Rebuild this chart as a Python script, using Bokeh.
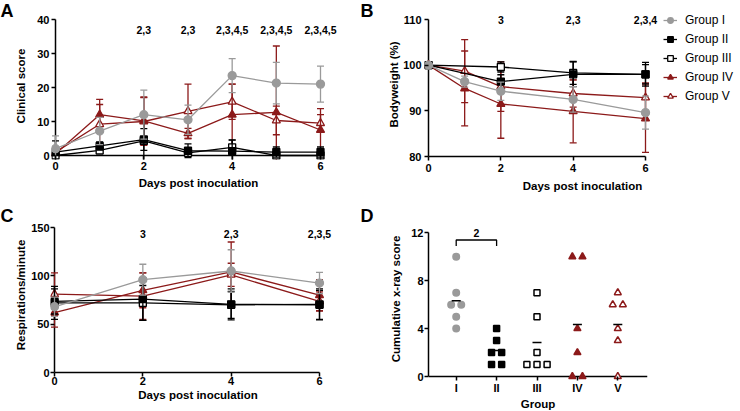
import numpy as np
from bokeh.plotting import figure
from bokeh.models import Range1d, Label, Legend, LegendItem, FixedTicker
from bokeh.layouts import row, column
from bokeh.embed import file_html
from bokeh.resources import INLINE
from bokeh.core.properties import value

FONT = "Liberation Sans"
GRAY = "#9a9a9a"
RED = "#8c1a1a"
BLACK = "#000000"

group_names = ["Group I", "Group II", "Group III", "Group IV", "Group V"]

# ---------------- Panel A: clinical score ----------------
a_days = [0, 1, 2, 3, 4, 5, 6]
a_g1_mean = [2.0, 7.2, 12.0, 10.5, 23.5, 21.3, 21.0]
a_g1_sd = [3.8, 4.0, 7.2, 4.3, 5.0, 6.1, 5.3]
a_g2_mean = [1.0, 2.8, 4.7, 1.4, 1.3, 1.0, 1.0]
a_g2_sd = [3.3, 1.2, 3.2, 2.0, 3.2, 1.5, 1.5]
a_g3_mean = [0.0, 1.5, 4.3, 0.8, 2.4, 0.0, 0.0]
a_g3_sd = [0.0, 1.0, 7.5, 0.8, 2.2, 0.0, 0.0]
a_g4_mean = [0.5, 12.0, 10.2, 6.5, 12.0, 12.7, 7.5]
a_g4_sd = [1.2, 4.5, 7.0, 1.5, 9.0, 19.5, 6.3]
a_g5_mean = [1.0, 9.2, 10.0, 13.0, 15.8, 10.3, 9.5]
a_g5_sd = [1.0, 5.8, 7.0, 8.0, 5.2, 4.2, 2.5]
a_sig_days = [2, 3, 4, 5, 6]
a_sig_text = ["2,3", "2,3", "2,3,4,5", "2,3,4,5", "2,3,4,5"]
a_sig_level = 36.8
a_x_ticks = [0, 2, 4, 6]
a_y_ticks = [0, 10, 20, 30, 40]

# ---------------- Panel B: bodyweight ----------------
b_days = [0, 1, 2, 4, 6]
b_days_ctrl = [0, 2, 4, 6]
b_g1_mean = [100.0, 96.4, 94.3, 92.5, 89.6]
b_g1_sd = [0.0, 1.2, 2.0, 2.8, 3.6]
b_g2_mean = [100.0, 96.4, 98.0, 98.0]
b_g2_sd = [0.0, 1.5, 2.7, 2.1]
b_g3_mean = [100.0, 99.6, 98.3, 98.0]
b_g3_sd = [0.0, 1.1, 2.5, 2.6]
b_g4_mean = [100.0, 94.9, 91.5, 89.9, 88.3]
b_g4_sd = [0.0, 8.2, 7.5, 6.9, 7.4]
b_g5_mean = [100.0, 98.7, 95.3, 93.8, 92.9]
b_g5_sd = [0.0, 6.9, 5.4, 3.0, 3.2]
b_sig_days = [2, 4, 6]
b_sig_text = ["3", "2,3", "2,3,4"]
b_sig_level = 110.0
b_x_ticks = [0, 2, 4, 6]
b_y_ticks = [80, 90, 100, 110]

# ---------------- Panel C: respirations ----------------
c_days = [0, 2, 4, 6]
c_g1_mean = [68.0, 96.0, 105.0, 92.5]
c_g1_sd = [10.0, 16.0, 22.0, 11.0]
c_g2_mean = [73.5, 76.0, 70.5, 70.0]
c_g2_sd = [13.0, 22.0, 16.0, 15.0]
c_g3_mean = [72.0, 72.0, 70.0, 70.5]
c_g3_sd = [17.0, 18.0, 14.0, 16.0]
c_g4_mean = [62.0, 85.0, 104.0, 80.0]
c_g4_sd = [15.0, 18.0, 31.0, 16.0]
c_g5_mean = [81.0, 79.0, 101.0, 73.5]
c_g5_sd = [22.0, 24.0, 12.0, 10.0]
c_sig_days = [2, 4, 6]
c_sig_text = ["3", "2,3", "2,3,5"]
c_sig_level = 143.5
c_x_ticks = [0, 2, 4, 6]
c_y_ticks = [0, 50, 100, 150]

# ---------------- Panel D: cumulative x-ray score ----------------
d_groups = ["I", "II", "III", "IV", "V"]
d_g1 = [10, 7, 6, 6, 5, 4]
d_g2 = [4, 3, 2, 2, 1, 1]
d_g3 = [7, 5, 2, 1, 1, 1]
d_g4 = [10, 10, 4, 2, 0, 0]
d_g5 = [7, 6, 6, 4, 3, 0]
d_bracket_pair = (1, 2)
d_bracket_level = 11.4
d_bracket_text = "2"
d_y_ticks = [0, 4, 8, 12]

panel_letters = ["A", "B", "C", "D"]

STYLE = {
    "Group I": dict(color=GRAY, marker="circle", fill=GRAY, size=8),
    "Group II": dict(color=BLACK, marker="square", fill=BLACK, size=7),
    "Group III": dict(color=BLACK, marker="square", fill="white", size=7),
    "Group IV": dict(color=RED, marker="triangle", fill=RED, size=8),
    "Group V": dict(color=RED, marker="triangle", fill="white", size=8),
}
AXW = 1.5  # axis line width
PAD = 4    # px between frame edge and an axis drawn at the data origin


def make_fig(W, H, box, xmap, ymap):
    """box = frame edges in px inside a W x H figure; the frame size is fixed."""
    l, t, r, b = box
    xv0, xp0, xv1, xp1 = xmap
    sx = (xp1 - xp0) / (xv1 - xv0)
    x_start = xv0 - (xp0 - l) / sx
    x_end = xv0 + (r - xp0) / sx
    yv0, yp0, yv1, yp1 = ymap
    sy = (yp0 - yp1) / (yv1 - yv0)
    y_start = yv0 - (b - yp0) / sy
    y_end = yv0 + (yp0 - t) / sy
    p = figure(width=W, height=H, frame_width=r - l, frame_height=b - t,
               x_range=Range1d(x_start, x_end), y_range=Range1d(y_start, y_end),
               min_border_left=l, min_border_right=W - r,
               min_border_top=t, min_border_bottom=H - b,
               toolbar_location=None, output_backend="svg", align="start")
    p.outline_line_color = None
    p.grid.visible = False
    p.background_fill_color = "white"
    p.border_fill_color = "white"
    for ax in p.axis:
        ax.axis_line_width = AXW
        ax.axis_line_color = "black"
        ax.major_tick_line_width = AXW
        ax.major_tick_line_color = "black"
        ax.major_tick_out = 4
        ax.major_tick_in = 0
        ax.minor_tick_line_color = None
        ax.major_label_text_font = FONT
        ax.major_label_text_font_size = "11px"
        ax.major_label_text_font_style = "bold"
        ax.major_label_text_color = "black"
        ax.axis_label_text_font = FONT
        ax.axis_label_text_font_size = "11.5px"
        ax.axis_label_text_font_style = "bold"
        ax.axis_label_text_color = "black"

    def to_data(fx, fy):
        return x_start + (fx - l) / sx, y_end - (fy - t) / sy

    return p, to_data


def inner_axis(ax):
    """Axis whose line lies at the data origin, PAD px inside the frame."""
    ax.axis_line_color = None
    ax.major_tick_in = PAD
    ax.major_tick_out = 0


def add_letter(p, to_data, fx, fy, text):
    x, y = to_data(fx, fy)
    p.add_layout(Label(x=x, y=y, x_units="data", y_units="data", text=text,
                       text_font=FONT, text_font_size="18px", text_font_style="bold",
                       text_align="left", text_baseline="top", text_color="black"),
                 "right")


def draw_series(p, x, mean, sd, name, lw=1.3, cap=7):
    st = STYLE[name]
    x = np.asarray(x, dtype=float)
    m = np.asarray(mean, dtype=float)
    s = np.asarray(sd, dtype=float)
    has = s > 0
    lo = m - s
    hi = m + s
    p.segment(x[has], lo[has], x[has], hi[has], line_color=st["color"], line_width=lw)
    p.scatter(x[has], hi[has], marker="dash", size=cap, line_color=st["color"], line_width=lw)
    p.scatter(x[has], lo[has], marker="dash", size=cap, line_color=st["color"], line_width=lw)
    rl = p.line(x, m, line_color=st["color"], line_width=lw)
    rm = p.scatter(x, m, marker=st["marker"], size=st["size"], line_color=st["color"],
                   fill_color=st["fill"], line_width=lw)
    return rl, rm


def sig_text(p, days, texts, level):
    p.text(x=days, y=[level] * len(days), text=texts, text_align="center",
           text_baseline="middle", text_font=value(FONT), text_font_size="10.5px",
           text_font_style="bold", text_color="black")


# ================= Panel A =================
pA, A_data = make_fig(380, 205, (51, 12, 345, 159), (0, 55, 6, 320), (0, 155, 40, 19))
pA.segment(x0=[0], y0=[min(a_y_ticks)], x1=[0], y1=[max(a_y_ticks)], line_color="black", line_width=AXW)
pA.segment(x0=[min(a_x_ticks)], y0=[0], x1=[max(a_x_ticks)], y1=[0], line_color="black", line_width=AXW)
a_series = [(a_g1_mean, a_g1_sd), (a_g2_mean, a_g2_sd), (a_g3_mean, a_g3_sd),
            (a_g4_mean, a_g4_sd), (a_g5_mean, a_g5_sd)]
for name, (m, s) in reversed(list(zip(group_names, a_series))):
    draw_series(pA, a_days, m, s, name)
sig_text(pA, a_sig_days, a_sig_text, a_sig_level)
inner_axis(pA.xaxis[0])
inner_axis(pA.yaxis[0])
pA.xaxis.bounds = (min(a_x_ticks), max(a_x_ticks))
pA.yaxis.bounds = (min(a_y_ticks), max(a_y_ticks))
pA.xaxis.ticker = FixedTicker(ticks=a_x_ticks)
pA.yaxis.ticker = FixedTicker(ticks=a_y_ticks)
pA.xaxis.axis_label = "Days post inoculation"
pA.yaxis.axis_label = "Clinical score"
pA.xaxis.major_label_standoff = 2
pA.xaxis.axis_label_standoff = 4
pA.yaxis.major_label_standoff = 2
pA.yaxis.axis_label_standoff = 7
add_letter(pA, A_data, 0, 0, panel_letters[0])
add_letter(pA, A_data, 360, 0, panel_letters[1])

# ================= Panel B =================
pB, B_data = make_fig(360, 205, (44, 10, 360, 154), (0, 48, 6, 265), (80, 154, 110, 17))
pB.segment(x0=[0], y0=[min(b_y_ticks)], x1=[0], y1=[max(b_y_ticks)], line_color="black", line_width=AXW)
b_series = [(b_days, b_g1_mean, b_g1_sd), (b_days_ctrl, b_g2_mean, b_g2_sd),
            (b_days_ctrl, b_g3_mean, b_g3_sd), (b_days, b_g4_mean, b_g4_sd),
            (b_days, b_g5_mean, b_g5_sd)]
legend_refs = {}
for name, (d, m, s) in reversed(list(zip(group_names, b_series))):
    legend_refs[name] = draw_series(pB, d, m, s, name)
sig_text(pB, b_sig_days, b_sig_text, b_sig_level)
inner_axis(pB.yaxis[0])
pB.xaxis.bounds = (min(b_x_ticks), max(b_x_ticks))
pB.yaxis.bounds = (min(b_y_ticks), max(b_y_ticks))
pB.xaxis.ticker = FixedTicker(ticks=b_x_ticks)
pB.yaxis.ticker = FixedTicker(ticks=b_y_ticks)
pB.xaxis.axis_label = "Days post inoculation"
pB.yaxis.axis_label = "Bodyweight (%)"
pB.xaxis.major_label_standoff = 3
pB.xaxis.axis_label_standoff = 5
pB.yaxis.major_label_standoff = 3
pB.yaxis.axis_label_standoff = 0
# legend sits inside the frame, which extends to the right edge of the figure
legend = Legend(items=[LegendItem(label=n, renderers=list(legend_refs[n])) for n in group_names],
                location=(239, 53), orientation="vertical",
                glyph_width=14, glyph_height=14, label_height=14, label_standoff=8,
                spacing=5, padding=0, margin=0, border_line_color=None,
                background_fill_alpha=0, label_text_font=FONT,
                label_text_font_size="12px", label_text_color="black")
pB.add_layout(legend)

# ================= Panel C =================
pC, C_data = make_fig(380, 206, (50, 12, 345, 167), (0, 54, 6, 319), (0, 167, 150, 22))
pC.segment(x0=[0], y0=[min(c_y_ticks)], x1=[0], y1=[max(c_y_ticks)], line_color="black", line_width=AXW)
c_series = [(c_g1_mean, c_g1_sd), (c_g2_mean, c_g2_sd), (c_g3_mean, c_g3_sd),
            (c_g4_mean, c_g4_sd), (c_g5_mean, c_g5_sd)]
for name, (m, s) in reversed(list(zip(group_names, c_series))):
    draw_series(pC, c_days, m, s, name)
sig_text(pC, c_sig_days, c_sig_text, c_sig_level)
inner_axis(pC.yaxis[0])
pC.xaxis.bounds = (min(c_x_ticks), max(c_x_ticks))
pC.yaxis.bounds = (min(c_y_ticks), max(c_y_ticks))
pC.xaxis.ticker = FixedTicker(ticks=c_x_ticks)
pC.yaxis.ticker = FixedTicker(ticks=c_y_ticks)
pC.xaxis.axis_label = "Days post inoculation"
pC.yaxis.axis_label = "Respirations/minute"
pC.xaxis.major_label_standoff = 0
pC.xaxis.axis_label_standoff = 1
pC.yaxis.major_label_standoff = 1
pC.yaxis.axis_label_standoff = 1
add_letter(pC, C_data, 0, 0, panel_letters[2])
add_letter(pC, C_data, 360, 0, panel_letters[3])

# ================= Panel D =================
pD, D_data = make_fig(360, 206, (48, 8, 267, 171), (1, 75.7, 5, 237.3), (0, 167, 12, 23.3))
d_x = list(range(1, len(d_groups) + 1))
d_values = [d_g1, d_g2, d_g3, d_g4, d_g5]
pD.segment(x0=[pD.x_range.start], y0=[0], x1=[pD.x_range.end], y1=[0], line_color="black", line_width=AXW)


def swarm_offsets(vals, step=0.25):
    vals = list(vals)
    offs = []
    for i, v in enumerate(vals):
        n = vals.count(v)
        k = vals[:i].count(v)
        offs.append((k - (n - 1) / 2.0) * step)
    return np.array(offs)


d_sizes = {"circle": 6.5, "square": 6, "triangle": 7}
for xi, vals, name in zip(d_x, d_values, group_names):
    st = STYLE[name]
    xs = xi + swarm_offsets(vals)
    pD.scatter(xs, vals, marker=st["marker"], size=d_sizes[st["marker"]],
               line_color=st["color"], fill_color=st["fill"], line_width=1.5)
    pD.scatter([xi], [float(np.mean(vals))], marker="dash", size=9,
               line_color="black", line_width=1.5)

bx0, bx1 = d_bracket_pair
drop = 0.5
pD.line([bx0, bx0, bx1, bx1],
        [d_bracket_level - drop, d_bracket_level, d_bracket_level, d_bracket_level - drop],
        line_color="black", line_width=1.3)
pD.text(x=[(bx0 + bx1) / 2.0], y=[d_bracket_level + 0.25], text=[d_bracket_text],
        text_align="center", text_baseline="bottom", text_font=value(FONT),
        text_font_size="10.5px", text_font_style="bold", text_color="black")
inner_axis(pD.xaxis[0])
pD.yaxis.bounds = (min(d_y_ticks), max(d_y_ticks))
pD.xaxis.ticker = FixedTicker(ticks=d_x)
pD.xaxis.major_label_overrides = {x: g for x, g in zip(d_x, d_groups)}
pD.yaxis.ticker = FixedTicker(ticks=d_y_ticks)
pD.xaxis.axis_label = "Group"
pD.yaxis.axis_label = "Cumulative x-ray score"
pD.xaxis.major_label_standoff = 1
pD.xaxis.axis_label_standoff = 1
pD.yaxis.major_label_standoff = 1
pD.yaxis.axis_label_standoff = 6

layout = column(row(pA, pB, align="start"), row(pC, pD, align="start"))
open("out.html", "w").write(file_html(layout, INLINE))
